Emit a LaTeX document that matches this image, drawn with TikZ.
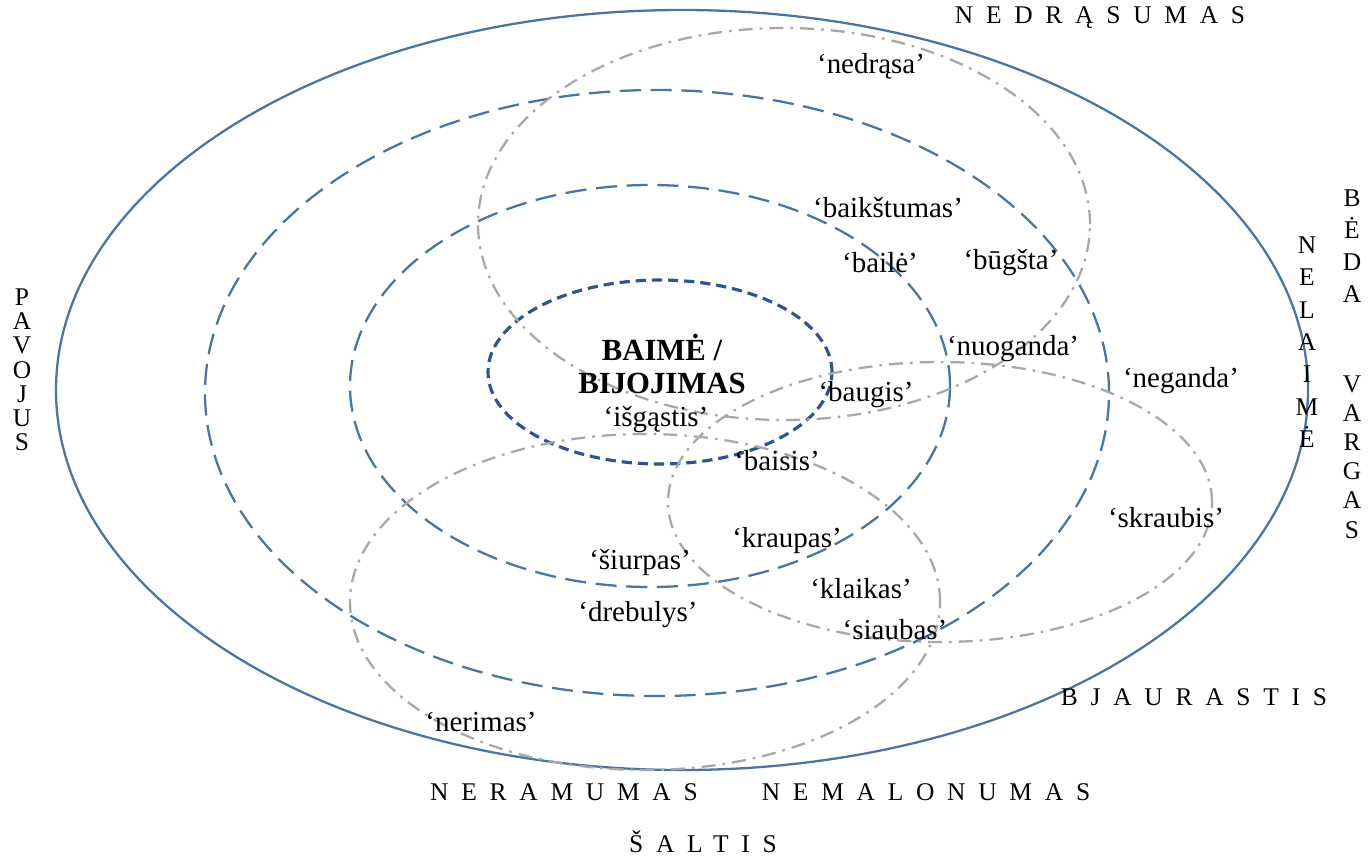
\documentclass[tikz,border=0pt]{standalone}
\usepackage{fontspec}
\setmainfont{Liberation Serif}
\usepackage{xcolor}
\usepackage{tikz}
\usetikzlibrary{positioning}
\definecolor{ringblue}{RGB}{72,117,166}
\definecolor{coreblue}{RGB}{45,82,150}
\definecolor{overlapgray}{RGB}{168,168,168}

\begin{document}
\begin{tikzpicture}[x=0.02cm, y=0.02cm]
    % Define styles
    \tikzstyle{ring} = [draw=ringblue, line width=1.3pt]
    \tikzstyle{dashedring} = [ring, dash pattern=on 12pt off 5.5pt]
    \tikzstyle{corering} = [draw=coreblue, line width=1.8pt, dash pattern=on 5.8pt off 3.4pt]
    \tikzstyle{overlap} = [draw=overlapgray, line width=1.3pt, dash pattern=on 8pt off 4pt on 1.5pt off 4pt]
    \tikzstyle{term} = [inner sep=0pt, font=\fontsize{16.5}{19}\selectfont]
    \tikzstyle{core} = [inner sep=0pt, align=center, font=\fontsize{17.5}{19.3}\selectfont\bfseries]
    \tikzstyle{field} = [inner sep=0pt, font=\fontsize{14.5}{15}\selectfont\addfontfeature{LetterSpace=50}]
    \tikzstyle{column} = [inner sep=0pt, align=center, font=\fontsize{14.5}{#1}\selectfont]

    \useasboundingbox (0,0) rectangle (1371,-856);

    % Rings
    \draw[ring] (682,-390) ellipse [x radius=626, y radius=380];
    \draw[dashedring] (657,-393) ellipse [x radius=452, y radius=303];
    \draw[dashedring] (650,-386) ellipse [x radius=300, y radius=201];
    \draw[corering] (660,-372) ellipse [x radius=172, y radius=92];

    % Overlapping fields
    \draw[overlap] (784,-224) ellipse [x radius=306, y radius=196];
    \draw[overlap] (940,-502) ellipse [x radius=272, y radius=140];
    \draw[overlap] (645,-602) ellipse [x radius=295, y radius=168];

    % Centre
    \node[core] (baime) at (662,-364) {BAIMĖ /\\BIJOJIMAS};

    % Terms
    \node[term] (nedrasa) at (871,-66) {‘nedrąsa’};
    \node[term] (baikstumas) at (888,-208) {‘baikštumas’};
    \node[term] (baile) at (880,-263) {‘bailė’};
    \node[term] (bugsta) at (1011,-263) {‘būgšta’};
    \node[term] (nuoganda) at (1013,-349) {‘nuoganda’};
    \node[term] (neganda) at (1181,-381) {‘neganda’};
    \node[term] (baugis) at (866,-395) {‘baugis’};
    \node[term] (isgastis) at (656,-420) {‘išgąstis’};
    \node[term] (baisis) at (777,-461) {‘baisis’};
    \node[term] (skraubis) at (1166,-518) {‘skraubis’};
    \node[term] (kraupas) at (787,-541) {‘kraupas’};
    \node[term] (siurpas) at (640,-562) {‘šiurpas’};
    \node[term] (klaikas) at (861,-589) {‘klaikas’};
    \node[term] (drebulys) at (638,-615) {‘drebulys’};
    \node[term] (siaubas) at (895,-630) {‘siaubas’};
    \node[term] (nerimas) at (481,-722) {‘nerimas’};

    % Fields
    \node[field] (nedrasumas) at (1100,-18) {NEDRĄSUMAS};
    \node[field] (bjaurastis) at (1194,-697) {BJAURASTIS};
    \node[field] (neramumas) at (564,-792) {NERAMUMAS};
    \node[field] (nemalonumas) at (926,-792) {NEMALONUMAS};
    \node[field] (saltis) at (703,-842) {ŠALTIS};
    \node[column=13.8pt] (pavojus) at (22,-370) {P\\A\\V\\O\\J\\U\\S};
    \node[column=18.4pt] (nelaime) at (1307,-342) {N\\E\\L\\A\\I\\M\\Ė};
    \node[column=18.2pt] (beda) at (1352,-246) {B\\Ė\\D\\A};
    \node[column=16.6pt, below=1.45cm of beda] (vargas) {V\\A\\R\\G\\A\\S};
\end{tikzpicture}
\end{document}
